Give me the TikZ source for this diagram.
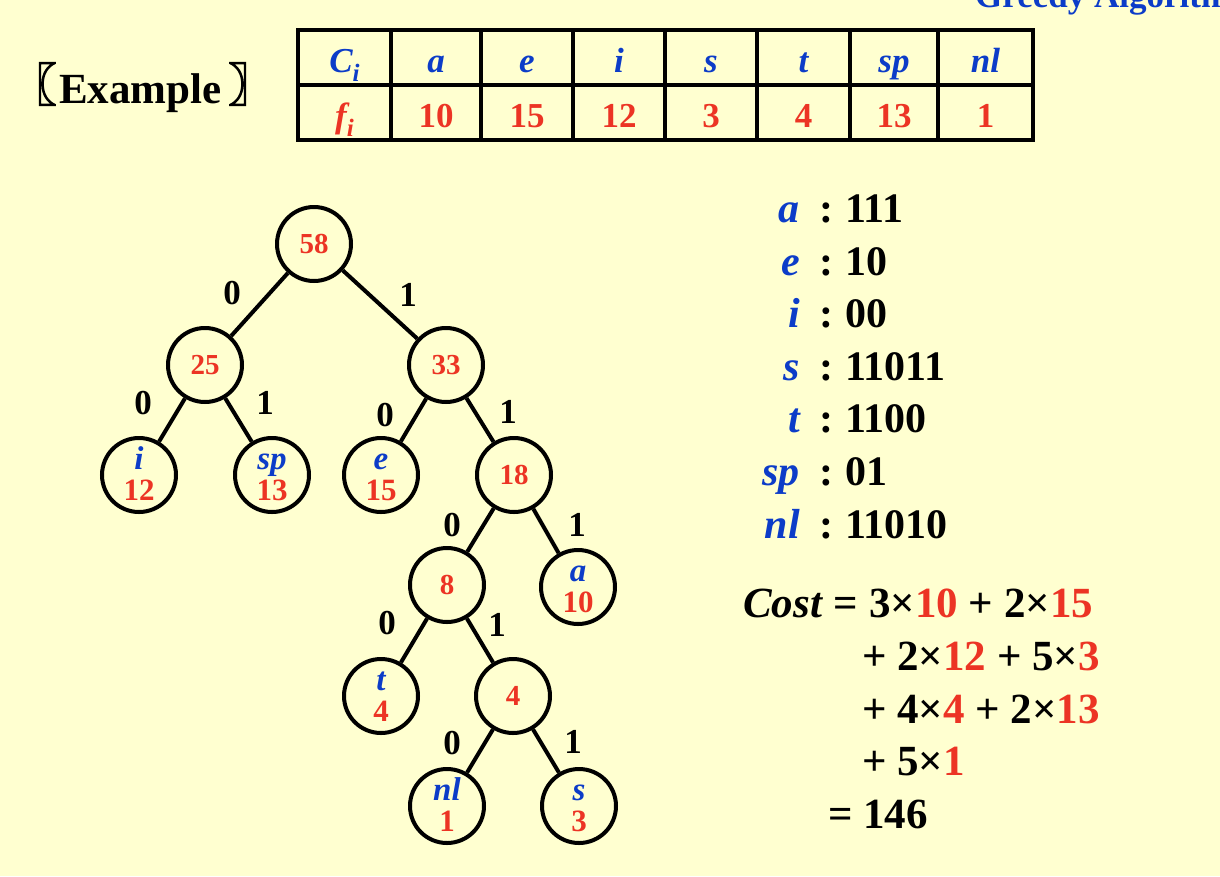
\documentclass[tikz,border=0pt]{standalone}
\usepackage{fontspec}
\setmainfont{Liberation Serif}
\newfontfamily\cjk{Noto Sans CJK SC}[FakeBold=3]
\usetikzlibrary{calc}
\definecolor{bg}{RGB}{255,255,208}
\definecolor{myred}{RGB}{236,52,36}
\definecolor{myblue}{RGB}{12,60,200}
\newcommand{\rd}[1]{{\color{myred}#1}}
\begin{document}
\begin{tikzpicture}[x=1pt,y=-1pt,
  tnode/.style={circle, draw, line width=4pt, minimum size=74pt, inner sep=0pt,
    font=\fontsize{29}{29}\selectfont\bfseries, text=myred},
  edge/.style={line width=4pt},
  bit/.style={font=\fontsize{35}{35}\selectfont\bfseries, inner sep=0pt},
  lt/.style={font=\fontsize{33}{33}\selectfont\bfseries\itshape, text=myblue, anchor=base, inner sep=0pt},
  nm/.style={font=\fontsize{31}{31}\selectfont\bfseries, text=myred, anchor=base, inner sep=0pt},
  tline/.style={line width=4pt},
  th/.style={font=\fontsize{35}{35}\selectfont\bfseries\itshape, text=myblue, anchor=base, inner sep=0pt},
  td/.style={font=\fontsize{35}{35}\selectfont\bfseries, text=myred, anchor=base, inner sep=0pt},
  cl/.style={font=\fontsize{42}{42}\selectfont\bfseries\itshape, text=myblue, anchor=base east, inner sep=0pt},
  cc/.style={font=\fontsize{42}{42}\selectfont\bfseries, anchor=base, inner sep=0pt},
  cd/.style={font=\fontsize{42}{42}\selectfont\bfseries, anchor=base west, inner sep=0pt},
  cost/.style={font=\fontsize{43}{43}\selectfont\bfseries, anchor=base west, inner sep=0pt}
]
\fill[bg] (0,0) rectangle (1220,876);
\useasboundingbox (0,0) rectangle (1220,876);

% header
\node[anchor=base west, inner sep=0pt, font=\fontsize{35}{35}\selectfont\bfseries, text=myblue] (hdr) at (975,7) {Greedy Algorithm};
\node[anchor=east, inner sep=0pt, font=\fontsize{46}{46}\selectfont\cjk] (lb) at (57,84) {〖};
\node[anchor=base west, inner sep=0pt, font=\fontsize{43}{43}\selectfont\bfseries] (ex) at (59,103) {Example};
\node[anchor=west, inner sep=0pt, font=\fontsize{46}{46}\selectfont\cjk] (rb) at (228,84) {〗};

% table
\draw[tline] (298,30) rectangle (1033,140);
\draw[tline] (298,85) -- (1033,85);
\foreach \x in {391,481,573,665,757,850,938} \draw[tline] (\x,30) -- (\x,140);
\node[th] (hC) at (344.5,72) {C\raisebox{-0.28em}{\fontsize{25}{25}\selectfont i}};
\node[th] (ha) at (436,72) {a};
\node[th] (he) at (527,72) {e};
\node[th] (hi) at (619,72) {i};
\node[th] (hs) at (711,72) {s};
\node[th] (ht) at (803.5,72) {t};
\node[th] (hsp) at (894,72) {sp};
\node[th] (hnl) at (985.5,72) {nl};
\node[th, text=myred] (hf) at (344.5,127) {f\raisebox{-0.28em}{\fontsize{25}{25}\selectfont i}};
\node[td] (fa) at (436,127) {10};
\node[td] (fe) at (527,127) {15};
\node[td] (fi) at (619,127) {12};
\node[td] (fs) at (711,127) {3};
\node[td] (ft) at (803.5,127) {4};
\node[td] (fsp) at (894,127) {13};
\node[td] (fnl) at (985.5,127) {1};

% tree
\node[tnode] (root) at (314,244) {58};
\node[tnode] (n25) at (205,365) {25};
\node[tnode] (n33) at (446,365) {33};
\node[tnode] (li) at (139,475) {};
\node[tnode] (lsp) at (272,475) {};
\node[tnode] (le) at (381,475) {};
\node[tnode] (n18) at (514,475) {18};
\node[tnode] (n8) at (447,585) {8};
\node[tnode] (la) at (578,587) {};
\node[tnode] (lt) at (381,696) {};
\node[tnode] (n4) at (513,696) {4};
\node[tnode] (lnl) at (447,806) {};
\node[tnode] (ls) at (579,806) {};

\foreach \n/\l/\v in {li/i/12, lsp/sp/13, le/e/15, la/a/10, lt/t/4, lnl/nl/1, ls/s/3} {
  \node[lt] (\n-l) at ($(\n.center)+(0,-6)$) {\l};
  \node[nm] (\n-v) at ($(\n.center)+(0,25)$) {\v};
}

\draw[edge] (root) -- (n25);
\draw[edge] (root) -- (n33);
\draw[edge] (n25) -- (li);
\draw[edge] (n25) -- (lsp);
\draw[edge] (n33) -- (le);
\draw[edge] (n33) -- (n18);
\draw[edge] (n18) -- (n8);
\draw[edge] (n18) -- (la);
\draw[edge] (n8) -- (lt);
\draw[edge] (n8) -- (n4);
\draw[edge] (n4) -- (lnl);
\draw[edge] (n4) -- (ls);

\node[bit] (b1) at (232,293) {0};
\node[bit] (b2) at (408,295) {1};
\node[bit] (b3) at (143,403) {0};
\node[bit] (b4) at (265,403) {1};
\node[bit] (b5) at (385,415) {0};
\node[bit] (b6) at (508,412) {1};
\node[bit] (b7) at (452,525) {0};
\node[bit] (b8) at (577,525) {1};
\node[bit] (b9) at (387,623) {0};
\node[bit] (b10) at (497,625) {1};
\node[bit] (b11) at (452,743) {0};
\node[bit] (b12) at (573,742) {1};

% codes
\foreach \i/\l/\c/\y in {1/a/111/222, 2/e/10/275, 3/i/00/327, 4/s/11011/380, 5/t/1100/432, 6/sp/01/485, 7/nl/11010/538} {
  \node[cl] (cl\i) at (800,\y) {\l};
  \node[cc] (cc\i) at (826,\y) {:};
  \node[cd] (cd\i) at (845,\y) {\c};
}

% cost
\node[cost] (c1) at (743,617) {\textit{Cost} = 3×\rd{10} + 2×\rd{15}};
\node[cost] (c2) at (862,670) {+ 2×\rd{12} + 5×\rd{3}};
\node[cost] (c3) at (862,723) {+ 4×\rd{4} + 2×\rd{13}};
\node[cost] (c4) at (862,775) {+ 5×\rd{1}};
\node[cost] (c5) at (828,828) {= 146};
\end{tikzpicture}
\end{document}
